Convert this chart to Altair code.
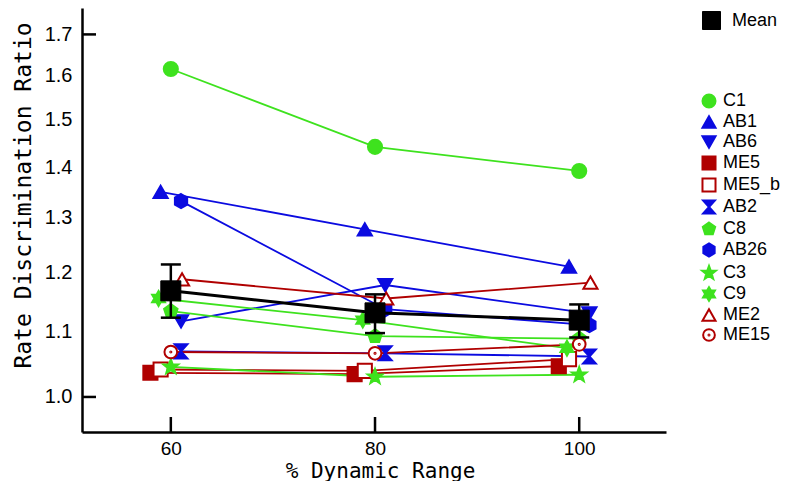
import math
import altair as alt
import pandas as pd

# ---------------- data ----------------
dynamic_range = [60, 80, 100]
series_names = ["C1", "AB1", "AB6", "ME5", "ME5_b", "AB2", "C8", "AB26", "C3", "C9", "ME2", "ME15"]

c1 = [1.616, 1.442, 1.392]
ab1 = [1.350, 1.278, 1.210]
ab6 = [1.117, 1.178, 1.130]
me5 = [1.036, 1.034, 1.046]
me5_b = [1.041, 1.039, 1.057]
ab2 = [1.069, 1.066, 1.061]
c8 = [1.134, 1.093, 1.089]
ab26 = [1.332, 1.137, 1.111]
c3 = [1.045, 1.030, 1.033]
c9 = [1.155, 1.119, 1.074]
me2 = [1.188, 1.155, 1.182]
me15 = [1.068, 1.066, 1.080]

mean_ratio = [1.168, 1.131, 1.119]
mean_upper = [1.214, 1.162, 1.145]
mean_lower = [1.123, 1.098, 1.091]

y_tick_labels = [1.0, 1.1, 1.2, 1.3, 1.4, 1.5, 1.6, 1.7]
y_tick_marks = [1.0, 1.7]
x_tick_labels = [60, 80, 100]

series_values = [c1, ab1, ab6, me5, me5_b, ab2, c8, ab26, c3, c9, me2, me15]

# ---------------- styles ----------------
GREEN = "#3ee21e"
BLUE = "#0b0be0"
RED = "#b00000"
series_stroke = [GREEN, BLUE, BLUE, RED, RED, BLUE, GREEN, BLUE, GREEN, GREEN, RED, RED]
series_fill = [GREEN, BLUE, BLUE, RED, "white", BLUE, GREEN, BLUE, GREEN, GREEN, "white", "white"]
# horizontal jitter (in % units) used by the original to separate markers
jitter = {"C1": 0, "AB1": -1.0, "AB6": 1.0, "ME5": -2.0, "ME5_b": -1.0, "AB2": 1.0,
          "C8": 0, "AB26": 1.0, "C3": 0, "C9": -1.2, "ME2": 1.1, "ME15": 0}


def star_path(n, r_out, r_in=None, start=-90.0):
    pts = []
    if r_in is None:
        for k in range(n):
            a = math.radians(start + 360.0 * k / n)
            pts.append((r_out * math.cos(a), r_out * math.sin(a)))
    else:
        for k in range(2 * n):
            a = math.radians(start + 180.0 * k / n)
            r = r_out if k % 2 == 0 else r_in
            pts.append((r * math.cos(a), r * math.sin(a)))
    return "M" + "L".join(f"{x:.3f},{y:.3f}" for x, y in pts) + "Z"


HOURGLASS = "M-0.9,-1L0.9,-1L0,0L0.9,1L-0.9,1L0,0Z"
PENTAGON = star_path(5, 1.0)
HEXAGON = star_path(6, 1.0)
STAR5 = star_path(5, 1.1, 0.45)
STAR6 = star_path(6, 1.05, 0.6)
CIRCLE_DOT = ("M0.9,0A0.9,0.9 0 1,1 -0.9,0A0.9,0.9 0 1,1 0.9,0Z"
              "M0.08,0A0.08,0.08 0 1,1 -0.08,0A0.08,0.08 0 1,1 0.08,0Z")
series_shape = ["circle", "triangle-up", "triangle-down", "square", "square", HOURGLASS,
                PENTAGON, HEXAGON, STAR5, STAR6, "triangle-up", CIRCLE_DOT]

# ---------------- tables ----------------
rows = []
for name, vals in zip(series_names, series_values):
    for dr, v in zip(dynamic_range, vals):
        rows.append({"series": name, "x": dr + jitter[name], "y": v})
df = pd.DataFrame(rows)
df["order"] = df["series"].map({s: i for i, s in enumerate(series_names)})

mean_df = pd.DataFrame({"x": dynamic_range, "y": mean_ratio, "lo": mean_lower,
                        "hi": mean_upper, "label": ["Mean"] * 3})
caps_df = pd.DataFrame({"x": dynamic_range * 2, "y": mean_lower + mean_upper})
ytick_df = pd.DataFrame({"y": y_tick_marks})
xtick_df = pd.DataFrame({"x": x_tick_labels})

W, H = 584, 424
FONT = "Liberation Sans"
TITLE_FONT = "DejaVu Sans Mono"

x_scale = alt.Scale(domain=[51.3, 108.5], nice=False, zero=False)
y_scale = alt.Scale(type="log", domain=[0.95, 1.767], nice=False, zero=False)

x_axis = alt.Axis(title="% Dynamic Range", values=x_tick_labels, ticks=False, tickSize=0,
                  grid=False, domainColor="black", domainWidth=2.5, labelFont=FONT,
                  labelFontSize=19, labelColor="black", labelPadding=7,
                  titleFont=TITLE_FONT, titleFontSize=21, titleFontWeight="normal",
                  titleColor="black", titleX=298, titleY=39, titleBaseline="middle",
                  titleAlign="center")
y_axis = alt.Axis(title="Rate Discrimination Ratio", values=y_tick_labels, format=".1f",
                  ticks=False, tickSize=0, grid=False, domainColor="black", domainWidth=2.5,
                  labelFont=FONT, labelFontSize=20, labelColor="black", labelPadding=10,
                  titleFont=TITLE_FONT, titleFontSize=23, titleFontWeight="normal",
                  titleColor="black", titleAngle=270, titleX=-59, titleY=187,
                  titleBaseline="middle", titleAlign="center")

X = alt.X("x:Q", scale=x_scale, axis=x_axis)
Y = alt.Y("y:Q", scale=y_scale, axis=y_axis)

series_legend = alt.Legend(orient="none", legendX=618, legendY=84, title=None, padding=0,
                           labelFont=FONT, labelFontSize=18, labelColor="black",
                           symbolSize=170, symbolStrokeWidth=2, rowPadding=0,
                           labelOffset=5, symbolOpacity=1)
mean_legend = alt.Legend(orient="none", legendX=620, legendY=3, title=None, padding=0,
                         labelFont=FONT, labelFontSize=18, labelColor="black",
                         symbolSize=324, symbolStrokeWidth=1, labelOffset=11,
                         symbolOpacity=1)

lines = alt.Chart(df).mark_line(strokeWidth=1.8).encode(
    x=X, y=Y,
    stroke=alt.Stroke("series:N", scale=alt.Scale(domain=series_names, range=series_stroke),
                      legend=None),
)

points = alt.Chart(df).mark_point(size=200, strokeWidth=2, opacity=1, fillOpacity=1).encode(
    x=X, y=Y,
    shape=alt.Shape("series:N", scale=alt.Scale(domain=series_names, range=series_shape),
                    legend=series_legend),
    stroke=alt.Stroke("series:N", scale=alt.Scale(domain=series_names, range=series_stroke),
                      legend=series_legend),
    fill=alt.Fill("series:N", scale=alt.Scale(domain=series_names, range=series_fill),
                  legend=series_legend),
    order=alt.Order("order:Q"),
)

mean_line = alt.Chart(mean_df).mark_line(strokeWidth=3, color="black").encode(x=X, y=Y)
mean_err = alt.Chart(mean_df).mark_rule(strokeWidth=2.5, color="black").encode(
    x=X, y=alt.Y("lo:Q", scale=y_scale, axis=y_axis), y2="hi:Q")
mean_caps = alt.Chart(caps_df).mark_tick(orient="horizontal", size=20, thickness=2.5,
                                         color="black", opacity=1).encode(x=X, y=Y)
mean_pts = alt.Chart(mean_df).mark_point(size=400, strokeWidth=1, opacity=1,
                                         fillOpacity=1).encode(
    x=X, y=Y,
    shape=alt.Shape("label:N", scale=alt.Scale(domain=["Mean"], range=["square"]),
                    legend=mean_legend),
    stroke=alt.Stroke("label:N", scale=alt.Scale(domain=["Mean"], range=["black"]),
                      legend=mean_legend),
    fill=alt.Fill("label:N", scale=alt.Scale(domain=["Mean"], range=["black"]),
                  legend=mean_legend),
)

ytick_rules = alt.Chart(ytick_df).mark_rule(strokeWidth=2.5, color="black").encode(
    y=Y, x=alt.value(0), x2=alt.value(14))
xtick_rules = alt.Chart(xtick_df).mark_rule(strokeWidth=2.5, color="black").encode(
    x=X, y=alt.value(H), y2=alt.value(H - 15))

chart = alt.layer(
    lines, points, mean_line, mean_err, mean_caps, mean_pts, ytick_rules, xtick_rules
).resolve_scale(
    shape="independent", stroke="independent", fill="independent"
).properties(
    width=W, height=H,
    padding={"left": 74, "top": 0, "right": 115, "bottom": 49},
    autosize=alt.AutoSizeParams(type="none"),
    background="white",
).configure_view(stroke=None)

chart.save("out.html", embed_options={"renderer": "svg", "actions": False})
